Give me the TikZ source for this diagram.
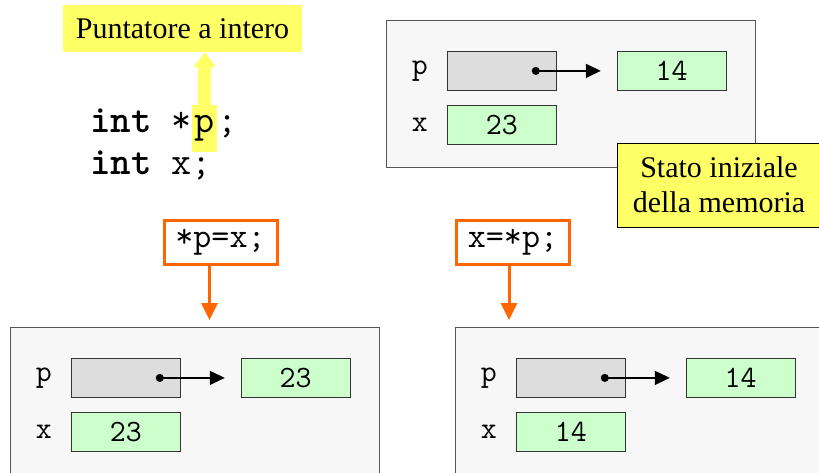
\documentclass[tikz,border=0pt]{standalone}
\usepackage{fontspec}
\setmainfont{Liberation Serif}
\usepackage{tikz}
\usetikzlibrary{arrows.meta,positioning}
\definecolor{memback}{HTML}{F7F7F7}
\definecolor{memline}{HTML}{555555}
\definecolor{ptrgray}{HTML}{DDDDDD}
\definecolor{valgreen}{HTML}{CCFFCC}
\definecolor{noteyel}{HTML}{FFFF66}
\definecolor{stmtorange}{HTML}{FF6600}
\tikzset{
  mem/.style={draw=memline,fill=memback,line width=0.8pt,anchor=north west,minimum width=369pt,minimum height=147pt,inner sep=0pt},
  cell/.style={draw=black!80,line width=0.8pt,minimum width=109pt,minimum height=39pt,inner sep=0pt,font=\fontsize{31}{34}\selectfont\ttfamily},
  ptrcell/.style={cell,fill=ptrgray},
  valcell/.style={cell,fill=valgreen},
  lbl/.style={inner sep=0pt,font=\fontsize{31}{34}\selectfont\ttfamily},
  code/.style={inner sep=0pt,anchor=base west,font=\fontsize{39}{44}\selectfont\ttfamily},
  note/.style={fill=noteyel,align=center,inner sep=0pt,font=\fontsize{30}{35}\selectfont},
  stmt/.style={draw=stmtorange,line width=3pt,fill=white,minimum width=113pt,minimum height=44pt,inner sep=0pt,font=\fontsize{35}{40}\selectfont\ttfamily},
  ptrar/.style={{Circle[length=8pt]}-{Triangle[length=15pt,width=14pt]},line width=1.5pt,shorten >=16pt},
  flow/.style={-{Triangle[length=17pt,width=16pt]},draw=stmtorange,line width=3pt},
  hint/.style={-{Triangle[length=15pt,width=22pt]},draw=noteyel,line width=13pt},
}

\begin{document}
\begin{tikzpicture}[x=1pt,y=-1pt]
  \useasboundingbox (0,0) rectangle (819,473);
  \clip (0,0) rectangle (819,473);

  % declarations
  \node[note,minimum width=239pt,minimum height=47pt] (ptrnote) at (182.5,28.5) {Puntatore a intero};
  \node[code] (decl1) at (90,133) {\textbf{int} *};
  \node[code,fill=noteyel,minimum width=25pt,minimum height=47pt] (pvar) at (decl1.base east) {p};
  \node[code] (semi1) at (pvar.base east) {;};
  \node[code] (decl2) at (90,175) {\textbf{int} x;};
  \draw[hint] (pvar.north) -- (pvar.north |- ptrnote.south);

  % initial memory
  \node[mem] (mem0) at (386,20) {};
  \node[ptrcell,below right=31pt and 61pt of mem0.north west] (ptr0) {};
  \node[valcell,right=60pt of ptr0] (tgt0) {14};
  \node[valcell,below=14pt of ptr0.south west,anchor=north west] (xval0) {23};
  \node[lbl,left=19pt of ptr0] (plbl0) {p};
  \node[lbl,left=19pt of xval0] (xlbl0) {x};
  \draw[ptrar] ([xshift=-25pt]ptr0.east) -- (tgt0);
  \node[note,draw=black,line width=0.8pt,minimum width=204pt,minimum height=84pt] (initnote) at (719,185) {Stato iniziale\\della memoria};

  % statements
  \node[stmt] (assign) at (220.5,242.5) {*p=x;};
  \node[stmt] (fetch) at (513,242.5) {x=*p;};

  % after *p=x;
  \node[mem,minimum height=200pt] (mem1) at (10,327) {};
  \node[ptrcell,below right=31pt and 61pt of mem1.north west] (ptr1) {};
  \node[valcell,right=60pt of ptr1] (tgt1) {23};
  \node[valcell,below=14pt of ptr1.south west,anchor=north west] (xval1) {23};
  \node[lbl,left=19pt of ptr1] (plbl1) {p};
  \node[lbl,left=19pt of xval1] (xlbl1) {x};
  \draw[ptrar] ([xshift=-25pt]ptr1.east) -- (tgt1);

  % after x=*p;
  \node[mem,minimum height=200pt] (mem2) at (455,327) {};
  \node[ptrcell,below right=31pt and 61pt of mem2.north west] (ptr2) {};
  \node[valcell,right=60pt of ptr2] (tgt2) {14};
  \node[valcell,below=14pt of ptr2.south west,anchor=north west] (xval2) {14};
  \node[lbl,left=19pt of ptr2] (plbl2) {p};
  \node[lbl,left=19pt of xval2] (xlbl2) {x};
  \draw[ptrar] ([xshift=-25pt]ptr2.east) -- (tgt2);

  \draw[flow,shorten >=7pt] ([xshift=-11pt]assign.south) -- ([xshift=-11pt]assign.south |- mem1.north);
  \draw[flow,shorten >=7pt] ([xshift=-4pt]fetch.south) -- ([xshift=-4pt]fetch.south |- mem2.north);
\end{tikzpicture}
\end{document}
